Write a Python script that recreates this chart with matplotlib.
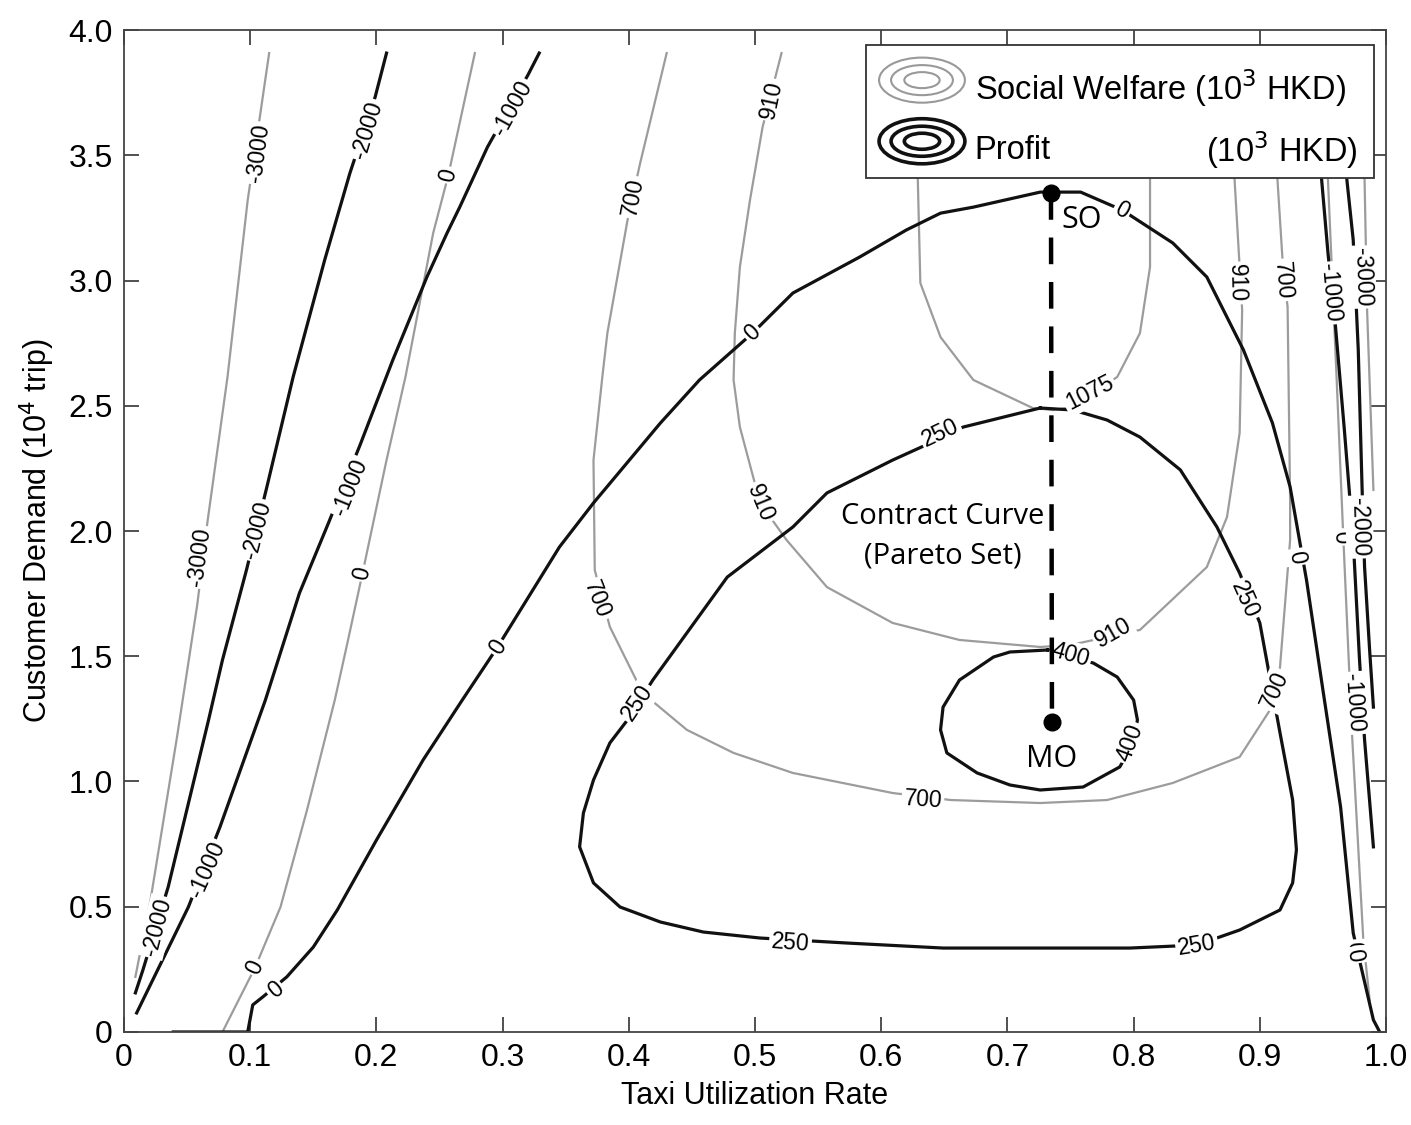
import numpy as np
import matplotlib.pyplot as plt
from matplotlib.patches import Ellipse, Rectangle

# ---- social welfare contours (gray) ----
sw_m3000_l_x = [0.115, 0.098, 0.082, 0.066, 0.058, 0.042, 0.021, 0.009]
sw_m3000_l_y = [3.908, 3.321, 2.615, 2.032, 1.705, 1.178, 0.527, 0.220]
sw_m3000_l_lab = [(0.106, 3.509), (0.060, 1.896)]

sw_0_l_x = [0.278, 0.257, 0.245, 0.223, 0.208, 0.189, 0.177, 0.167, 0.145, 0.124, 0.104, 0.078]
sw_0_l_y = [3.908, 3.421, 3.190, 2.615, 2.283, 1.832, 1.553, 1.325, 0.886, 0.499, 0.259, 0.0]
sw_0_l_lab = [(0.257, 3.421), (0.189, 1.832), (0.104, 0.259)]

sw_700_x = [0.430, 0.409, 0.399, 0.383, 0.379, 0.372, 0.373, 0.385, 0.411, 0.446, 0.483, 0.530,
            0.609, 0.655, 0.726, 0.779, 0.831, 0.884, 0.908, 0.916, 0.924, 0.924, 0.922, 0.918,
            0.914, 0.912]
sw_700_y = [3.908, 3.469, 3.242, 2.790, 2.615, 2.283, 1.844, 1.617, 1.353, 1.206, 1.114, 1.034,
            0.954, 0.926, 0.914, 0.926, 0.994, 1.098, 1.285, 1.457, 1.964, 2.124, 2.894, 3.082,
            3.401, 3.908]
sw_700_lab = [(0.403, 3.333), (0.375, 1.725), (0.633, 0.926), (0.912, 1.365), (0.918, 3.002)]

sw_910_x = [0.521, 0.506, 0.496, 0.488, 0.484, 0.483, 0.488, 0.504, 0.525, 0.557, 0.609, 0.662,
            0.726, 0.750, 0.805, 0.858, 0.874, 0.884, 0.886, 0.880, 0.879]
sw_910_y = [3.908, 3.613, 3.321, 3.054, 2.790, 2.603, 2.415, 2.112, 1.964, 1.776, 1.633, 1.565,
            1.537, 1.545, 1.605, 1.856, 2.056, 2.391, 2.882, 3.401, 3.908]
sw_910_lab = [(0.513, 3.721), (0.504, 2.112), (0.784, 1.593), (0.882, 2.990)]

sw_1075_x = [0.629, 0.629, 0.631, 0.647, 0.673, 0.720, 0.736, 0.752, 0.787, 0.805, 0.813, 0.813, 0.813]
sw_1075_y = [3.908, 3.401, 2.990, 2.774, 2.603, 2.491, 2.483, 2.495, 2.615, 2.790, 3.054, 3.401, 3.908]
sw_1075_lab = [(0.765, 2.551)]

sw_0_r_x = [0.949, 0.954, 0.961, 0.966, 0.973, 0.982, 0.987]
sw_0_r_y = [3.908, 3.401, 2.591, 1.992, 1.194, 0.367, 0.128]
sw_0_r_lab = [(0.964, 1.976), (0.975, 0.335)]

sw_m3000_r_x = [0.981, 0.983, 0.985, 0.990]
sw_m3000_r_y = [3.908, 3.401, 2.882, 2.164]
sw_m3000_r_lab = [(0.981, 3.014)]

# ---- profit contours (black) ----
pr_m2000_l_x = [0.208, 0.199, 0.179, 0.159, 0.134, 0.113, 0.097, 0.078, 0.067, 0.035, 0.015, 0.009]
pr_m2000_l_y = [3.908, 3.733, 3.429, 3.082, 2.615, 2.172, 1.844, 1.485, 1.246, 0.579, 0.248, 0.156]
pr_m2000_l_lab = [(0.193, 3.601), (0.105, 2.004), (0.026, 0.419)]

pr_m1000_l_x = [0.329, 0.320, 0.288, 0.266, 0.256, 0.240, 0.213, 0.187, 0.162, 0.139, 0.112,
                0.076, 0.051, 0.010]
pr_m1000_l_y = [3.908, 3.820, 3.533, 3.293, 3.190, 3.014, 2.683, 2.343, 2.032, 1.752, 1.325,
                0.818, 0.499, 0.076]
pr_m1000_l_lab = [(0.308, 3.689), (0.179, 2.176), (0.066, 0.647)]

pr_0_x = [0.039, 0.098, 0.102, 0.110, 0.129, 0.150, 0.169, 0.200, 0.237, 0.268, 0.296, 0.345,
          0.372, 0.425, 0.456, 0.498, 0.530, 0.583, 0.620, 0.647, 0.673, 0.726, 0.758, 0.791,
          0.831, 0.858, 0.887, 0.910, 0.924, 0.937, 0.950, 0.964, 0.974, 0.990, 0.995]
pr_0_y = [0.0, 0.0, 0.108, 0.140, 0.220, 0.339, 0.487, 0.766, 1.086, 1.325, 1.537, 1.936,
          2.112, 2.431, 2.603, 2.790, 2.950, 3.094, 3.202, 3.269, 3.293, 3.353, 3.353, 3.281,
          3.150, 3.014, 2.723, 2.431, 2.176, 1.804, 1.365, 0.898, 0.395, 0.048, 0.0]
pr_0_lab = [(0.120, 0.168), (0.296, 1.537), (0.498, 2.790), (0.791, 3.281), (0.929, 1.896),
            (0.975, 0.307)]

pr_250_x = [0.726, 0.665, 0.644, 0.609, 0.557, 0.530, 0.478, 0.419, 0.399, 0.385, 0.372, 0.364,
            0.361, 0.372, 0.393, 0.425, 0.459, 0.504, 0.573, 0.649, 0.726, 0.797, 0.850, 0.884,
            0.916, 0.926, 0.929, 0.926, 0.916, 0.900, 0.884, 0.866, 0.837, 0.805, 0.779, 0.752,
            0.726]
pr_250_y = [2.491, 2.415, 2.363, 2.283, 2.152, 2.016, 1.816, 1.405, 1.246, 1.154, 1.006, 0.874,
            0.739, 0.595, 0.499, 0.439, 0.399, 0.375, 0.355, 0.335, 0.335, 0.335, 0.347, 0.407,
            0.487, 0.595, 0.727, 0.926, 1.194, 1.633, 1.832, 2.016, 2.244, 2.375, 2.443, 2.483,
            2.491]
pr_250_lab = [(0.647, 2.391), (0.407, 1.313), (0.528, 0.355), (0.850, 0.347), (0.888, 1.725)]

pr_400_x = [0.732, 0.702, 0.689, 0.662, 0.649, 0.647, 0.652, 0.676, 0.702, 0.726, 0.760, 0.789,
            0.800, 0.803, 0.800, 0.787, 0.768, 0.752, 0.732]
pr_400_y = [1.525, 1.517, 1.497, 1.405, 1.297, 1.206, 1.114, 1.034, 0.986, 0.966, 0.978, 1.058,
            1.154, 1.246, 1.325, 1.417, 1.473, 1.493, 1.525]
pr_400_lab = [(0.750, 1.505), (0.797, 1.154)]

pr_m1000_r_x = [0.946, 0.949, 0.954, 0.960, 0.967, 0.974, 0.979, 0.983, 0.990]
pr_m1000_r_y = [3.908, 3.401, 3.110, 2.814, 2.403, 1.964, 1.485, 1.166, 0.739]
pr_m1000_r_lab = [(0.956, 2.950), (0.974, 1.313)]

pr_m2000_r_x = [0.964, 0.969, 0.974, 0.978, 0.981, 0.983, 0.987, 0.990]
pr_m2000_r_y = [3.908, 3.401, 3.162, 2.723, 2.176, 1.856, 1.525, 1.297]
pr_m2000_r_lab = [(0.979, 2.016)]

# optimum points and contract curve
so_pt = (0.7345, 3.349)
mo_pt = (0.7353, 1.238)

gray_curves = [
    (sw_m3000_l_x, sw_m3000_l_y, '-3000', sw_m3000_l_lab),
    (sw_0_l_x, sw_0_l_y, '0', sw_0_l_lab),
    (sw_700_x, sw_700_y, '700', sw_700_lab),
    (sw_910_x, sw_910_y, '910', sw_910_lab),
    (sw_1075_x, sw_1075_y, '1075', sw_1075_lab),
    (sw_0_r_x, sw_0_r_y, '0', sw_0_r_lab),
    (sw_m3000_r_x, sw_m3000_r_y, '-3000', sw_m3000_r_lab),
]
black_curves = [
    (pr_m2000_l_x, pr_m2000_l_y, '-2000', pr_m2000_l_lab),
    (pr_m1000_l_x, pr_m1000_l_y, '-1000', pr_m1000_l_lab),
    (pr_0_x, pr_0_y, '0', pr_0_lab),
    (pr_250_x, pr_250_y, '250', pr_250_lab),
    (pr_400_x, pr_400_y, '400', pr_400_lab),
    (pr_m1000_r_x, pr_m1000_r_y, '-1000', pr_m1000_r_lab),
    (pr_m2000_r_x, pr_m2000_r_y, '-2000', pr_m2000_r_lab),
]

plt.rcParams['font.family'] = ['Liberation Sans', 'DejaVu Sans']

fig = plt.figure(figsize=(14.11, 11.25), dpi=100)
ax = fig.add_axes([0.0879, 0.0827, 0.8944, 0.8906])
ax.set_xlim(0, 1.0)
ax.set_ylim(0, 4.0)


def label_angle(xs, ys, lx, ly):
    pts = ax.transData.transform(np.column_stack([xs, ys]))
    p = ax.transData.transform((lx, ly))
    d = np.hypot(pts[:, 0] - p[0], pts[:, 1] - p[1])
    i = int(np.argmin(d))
    if i == 0:
        a, b = pts[0], pts[1]
    elif i == len(pts) - 1:
        a, b = pts[-2], pts[-1]
    else:
        a, b = pts[i - 1], pts[i + 1]
    ang = np.degrees(np.arctan2(b[1] - a[1], b[0] - a[0]))
    if ang > 90:
        ang -= 180
    if ang < -90:
        ang += 180
    return ang


def draw(curves, color, lw):
    for xs, ys, lev, labs in curves:
        ax.plot(xs, ys, color=color, lw=lw, solid_joinstyle='round', zorder=2)
        for lx, ly in labs:
            ax.text(lx, ly, lev, rotation=label_angle(xs, ys, lx, ly), rotation_mode='anchor',
                    ha='center', va='center', fontsize=16.5, color='black', zorder=4,
                    bbox=dict(boxstyle='square,pad=0.1', fc='white', ec='none'))


draw(gray_curves, '#9c9c9c', 1.6)
draw(black_curves, '#111111', 2.3)

# contract curve between social optimum and monopoly optimum
ax.plot([so_pt[0], mo_pt[0]], [so_pt[1], mo_pt[1]], color='black', lw=3.2,
        dashes=(6, 4), zorder=5)
ax.plot(*so_pt, 'o', color='black', ms=12, zorder=6)
ax.plot(*mo_pt, 'o', color='black', ms=12, zorder=6)
ax.text(so_pt[0] + 0.008, so_pt[1] - 0.14, 'SO', fontsize=22, family='Open Sans', zorder=6)
ax.text(mo_pt[0], mo_pt[1] - 0.18, 'MO', fontsize=22, family='Open Sans', ha='center', zorder=6)
ax.text(0.649, 1.98, 'Contract Curve\n(Pareto Set)', fontsize=21, family='Open Sans',
        ha='center', va='center', linespacing=1.5, zorder=6)

# axes styling
ax.set_xticks(np.arange(0, 1.01, 0.1))
ax.set_xticklabels(['0'] + ['%.1f' % v for v in np.arange(0.1, 1.01, 0.1)])
ax.set_yticks(np.arange(0, 4.01, 0.5))
ax.set_yticklabels(['0'] + ['%.1f' % v for v in np.arange(0.5, 4.01, 0.5)])
ax.tick_params(direction='in', length=11, width=1.2, labelsize=23, top=True, right=True,
               pad=8, color='#333333')
for s in ax.spines.values():
    s.set_linewidth(1.3)
    s.set_color('#444444')
ax.set_xlabel('Taxi Utilization Rate', fontsize=22, labelpad=6)
ax.set_ylabel('Customer Demand (10$^4$ trip)', fontsize=22, labelpad=8)

# hand-made legend box
ax.add_patch(Rectangle((0.588, 0.852), 0.4025, 0.133, transform=ax.transAxes,
                       fc='white', ec='#333333', lw=1.3, zorder=10))
for (cy, col, lw) in [(0.950, '#999999', 1.5), (0.889, '#111111', 2.6)]:
    for w, h in [(0.068, 0.045), (0.049, 0.030), (0.028, 0.016)]:
        ax.add_patch(Ellipse((0.6323, cy), w, h, transform=ax.transAxes, fc='none',
                             ec=col, lw=lw, zorder=11))
ax.text(0.674, 0.942, 'Social Welfare (10$^3$ HKD)', transform=ax.transAxes,
        fontsize=23.5, va='center', zorder=12)
ax.text(0.674, 0.880, 'Profit', transform=ax.transAxes, fontsize=23.5, va='center', zorder=12)
ax.text(0.978, 0.880, '(10$^3$ HKD)', transform=ax.transAxes, fontsize=23.5, va='center',
        ha='right', zorder=12)

fig.savefig('out.png', dpi=100)
